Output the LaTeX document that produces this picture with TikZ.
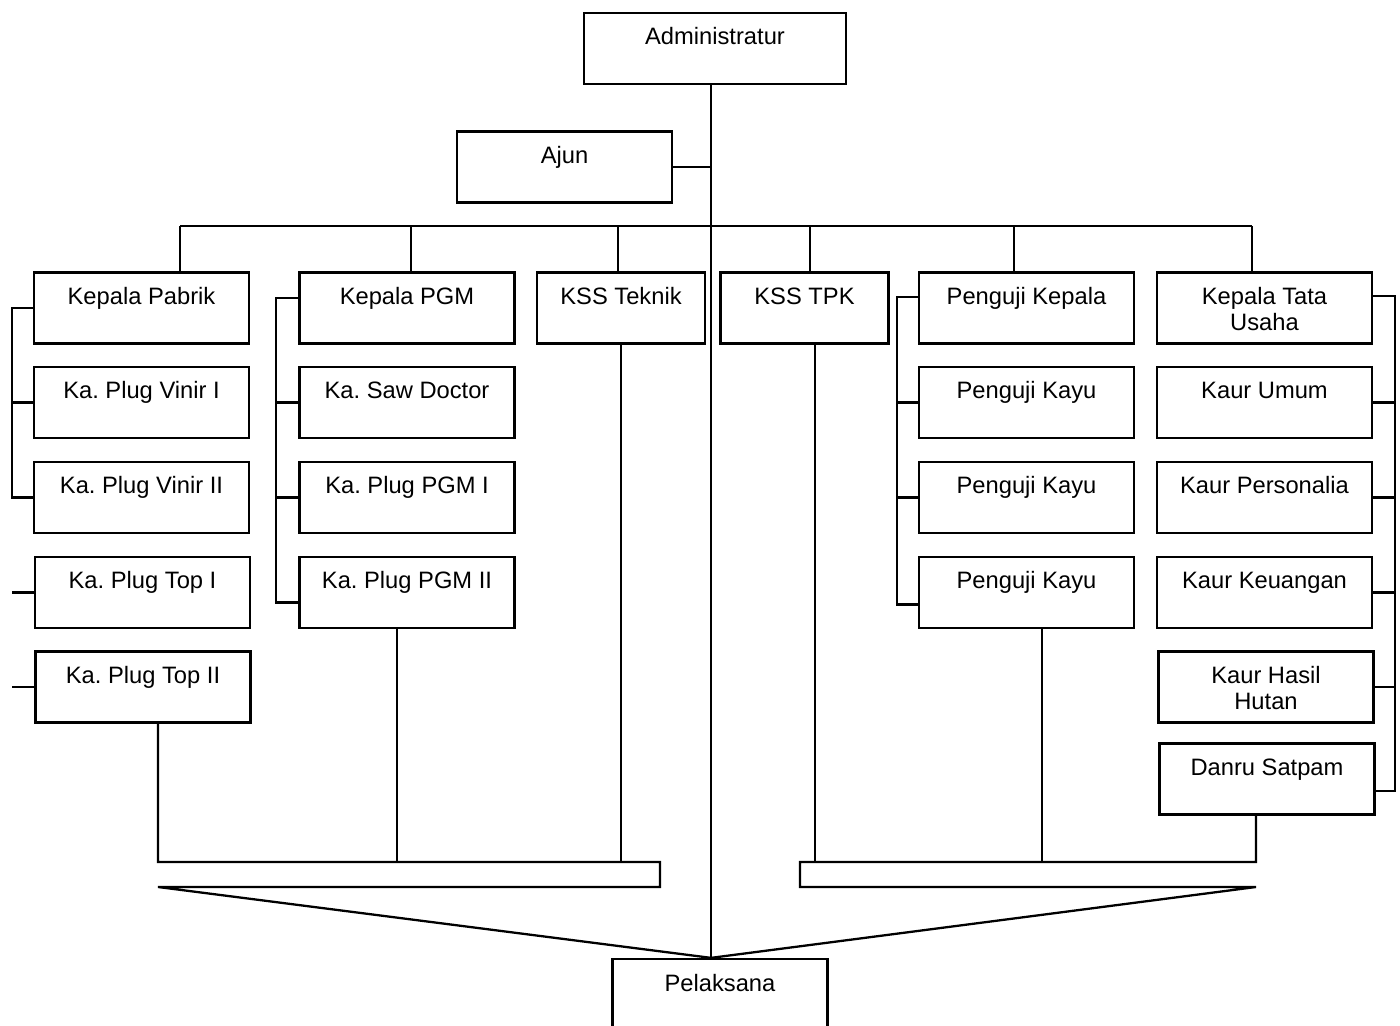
\documentclass[tikz,border=0pt]{standalone}
\usepackage{fontspec}
\setmainfont{Liberation Sans}
\frenchspacing
\newcommand{\twol}[2]{\begin{tabular}[t]{@{}c@{}}#1\\#2\end{tabular}}

\begin{document}
\begin{tikzpicture}[x=0.02cm, y=-0.02cm, line width=1.3pt,
   font=\fontsize{13.5}{14.7}\selectfont,
   box/.style={draw, inner sep=0pt, text height=0.64cm, text depth=0.78cm, minimum width=4.3cm},
   kss/.style={box, minimum width=3.36cm}]
   \useasboundingbox[fill=white] (0,0) rectangle (1400,1026);

   \node[box, minimum width=5.24cm] (admin) at (715,48.5) {Administratur};
   \node[box] (ajun) at (564.5,167) {Ajun};

   \node[box] (pabrik) at (141.5,308) {Kepala Pabrik};
   \node[box] (vinir1) at (141.5,402.5) {Ka. Plug Vinir I};
   \node[box] (vinir2) at (141.5,497.5) {Ka. Plug Vinir II};
   \node[box] (top1) at (142.5,592.5) {Ka. Plug Top I};
   \node[box] (top2) at (143,687) {Ka. Plug Top II};

   \node[box] (pgm) at (407,308) {Kepala PGM};
   \node[box] (saw) at (407,402.5) {Ka. Saw Doctor};
   \node[box] (pgm1) at (407,497.5) {Ka. Plug PGM I};
   \node[box] (pgm2) at (407,592.5) {Ka. Plug PGM II};

   \node[kss] (teknik) at (621,308) {KSS Teknik};
   \node[kss] (tpk) at (804.5,308) {KSS TPK};

   \node[box] (penguji) at (1026.5,308) {Penguji Kepala};
   \node[box] (kayu1) at (1026.5,402.5) {Penguji Kayu};
   \node[box] (kayu2) at (1026.5,497.5) {Penguji Kayu};
   \node[box] (kayu3) at (1026.5,592.5) {Penguji Kayu};

   \node[box] (tu) at (1264.5,308) {\twol{Kepala Tata}{Usaha}};
   \node[box] (umum) at (1264.5,402.5) {Kaur Umum};
   \node[box] (personalia) at (1264.5,497.5) {Kaur Personalia};
   \node[box] (keuangan) at (1264.5,592.5) {Kaur Keuangan};
   \node[box] (hasil) at (1266,687) {\twol{Kaur Hasil}{Hutan}};
   \node[box] (danru) at (1267,779) {Danru Satpam};

   \node[box] (pel) at (720,994.5) {Pelaksana};

   % line from the top down and the bus
   \coordinate (spine) at (711,226);
   \coordinate (dPabrik) at (180,226);
   \coordinate (dPgm) at (411,226);
   \coordinate (dTeknik) at (618,226);
   \coordinate (dTpk) at (810,226);
   \coordinate (dPenguji) at (1014,226);
   \coordinate (dTu) at (1252,226);
   \draw (admin.south -| spine) -- (pel.north -| spine);
   \draw (ajun.east) -- (ajun.east -| spine);
   \draw (dPabrik) -- (dTu);
   \draw (dPabrik) -- (dPabrik |- pabrik.north);
   \draw (dPgm) -- (dPgm |- pgm.north);
   \draw (dTeknik) -- (dTeknik |- teknik.north);
   \draw (dTpk) -- (dTpk |- tpk.north);
   \draw (dPenguji) -- (dPenguji |- penguji.north);
   \draw (dTu) -- (dTu |- tu.north);

   % side brackets
   \coordinate (lb) at (12,0);
   \coordinate (pb) at (276,0);
   \coordinate (kb) at (897,0);
   \coordinate (rb) at (1395,0);
   \draw (pabrik.west) -- (pabrik.west -| lb) -- (vinir2.west -| lb) -- (vinir2.west);
   \draw (vinir1.west) -- (vinir1.west -| lb);
   \draw (top1.west) -- (top1.west -| lb);
   \draw (top2.west) -- (top2.west -| lb);

   \draw ([yshift=0.2cm]pgm.west) -- ([yshift=0.2cm]pgm.west -| pb) -- ([yshift=-0.2cm]pgm2.west -| pb) -- ([yshift=-0.2cm]pgm2.west);
   \draw (saw.west) -- (saw.west -| pb);
   \draw (pgm1.west) -- (pgm1.west -| pb);

   \draw ([yshift=0.22cm]penguji.west) -- ([yshift=0.22cm]penguji.west -| kb) -- ([yshift=-0.24cm]kayu3.west -| kb) -- ([yshift=-0.24cm]kayu3.west);
   \draw (kayu1.west) -- (kayu1.west -| kb);
   \draw (kayu2.west) -- (kayu2.west -| kb);

   \draw ([yshift=0.24cm]tu.east) -- ([yshift=0.24cm]tu.east -| rb) -- ([yshift=-0.24cm]danru.east -| rb) -- ([yshift=-0.24cm]danru.east);
   \draw (umum.east) -- (umum.east -| rb);
   \draw (personalia.east) -- (personalia.east -| rb);
   \draw (keuangan.east) -- (keuangan.east -| rb);
   \draw (hasil.east) -- (hasil.east -| rb);

   % trays down to Pelaksana
   \coordinate (trayL) at (158,862);
   \coordinate (trayLe) at (660,887);
   \coordinate (dPgm2) at (397,862);
   \draw (top2.south -| trayL) -- (trayL) -- (trayL -| trayLe) -- (trayLe) -- (trayLe -| trayL) -- (pel.north -| spine);
   \draw (pgm2.south -| dPgm2) -- (dPgm2);
   \draw (teknik.south) -- (teknik.south |- trayL);

   \coordinate (trayR) at (1256,862);
   \coordinate (trayRe) at (800,887);
   \coordinate (dTpk2) at (815,862);
   \coordinate (dKayu) at (1042,862);
   \draw (danru.south -| trayR) -- (trayR) -- (trayR -| trayRe) -- (trayRe) -- (trayRe -| trayR) -- (pel.north -| spine);
   \draw (tpk.south -| dTpk2) -- (dTpk2);
   \draw (kayu3.south -| dKayu) -- (dKayu);
\end{tikzpicture}
\end{document}
